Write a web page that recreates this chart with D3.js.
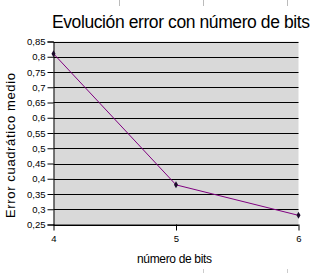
<!DOCTYPE html>
<html>
<head>
<meta charset="utf-8">
<script src="https://cdn.jsdelivr.net/npm/d3@7"></script>
<style>
  body { margin: 0; background: #fff; }
  svg { display: block; font-family: "Liberation Sans", Arial, sans-serif; }
</style>
</head>
<body>
<svg id="chart" width="333" height="273"></svg>
<script>
const bits = [4, 5, 6];
const errors = [0.81, 0.38, 0.28];
const yTicks = [0.25, 0.3, 0.35, 0.4, 0.45, 0.5, 0.55, 0.6, 0.65, 0.7, 0.75, 0.8, 0.85];
const title = "Evolución error con número de bits";

const svg = d3.select("#chart");
const plotL = 53.5, plotR = 298.5, plotT = 41.5, plotB = 224.5;

const x = d3.scaleLinear().domain([4, 6]).range([plotL, plotR]);
const y = d3.scaleLinear().domain([0.25, 0.85]).range([plotB, plotT]);
const fmt = d => String(d).replace(".", ",");

// stray tick marks from neighbouring chart
svg.selectAll("line.stray-top").data([119, 203, 287]).join("line")
  .attr("x1", d => d + 0.5).attr("x2", d => d + 0.5)
  .attr("y1", 0).attr("y2", 6)
  .attr("stroke", "#bbb");
svg.selectAll("line.stray-bot").data([203, 287]).join("line")
  .attr("x1", d => d + 0.5).attr("x2", d => d + 0.5)
  .attr("y1", 269).attr("y2", 273)
  .attr("stroke", "#ccc");

svg.append("rect")
  .attr("x", plotL).attr("y", plotT)
  .attr("width", plotR - plotL).attr("height", plotB - plotT)
  .attr("fill", "#d9d9d9");

svg.append("g").selectAll("line").data(yTicks).join("line")
  .attr("x1", plotL).attr("x2", plotR)
  .attr("y1", d => Math.round(y(d)) + 0.5).attr("y2", d => Math.round(y(d)) + 0.5)
  .attr("stroke", "#000");

const yAxis = svg.append("g")
  .attr("transform", `translate(${plotL},0)`)
  .call(d3.axisLeft(y).tickValues(yTicks).tickFormat(fmt).tickSize(6).tickPadding(2));
const xAxis = svg.append("g")
  .attr("transform", `translate(0,${plotB})`)
  .call(d3.axisBottom(x).tickValues(bits).tickFormat(d3.format("d")).tickSize(6).tickPadding(5));
[yAxis, xAxis].forEach(a => {
  a.select(".domain").attr("stroke", "#000");
  a.selectAll(".tick line").attr("stroke", "#000");
  a.selectAll("text").attr("font-size", 9.5).attr("fill", "#000")
    .attr("font-family", "'Liberation Sans', Arial, sans-serif");
});
xAxis.select(".domain").remove();
xAxis.append("line").attr("x1", plotL).attr("x2", plotR).attr("y1", 0.5).attr("y2", 0.5).attr("stroke", "#000");

const line = d3.line().x((d, i) => x(bits[i])).y(d => y(d));
svg.append("path").datum(errors)
  .attr("d", line)
  .attr("fill", "none")
  .attr("stroke", "#800080")
  .attr("stroke-width", 1);

svg.selectAll("path.pt").data(errors).join("path")
  .attr("class", "pt")
  .attr("d", d3.symbol(d3.symbolDiamond, 14))
  .attr("transform", (d, i) => `translate(${x(bits[i])},${y(d)})`)
  .attr("fill", "#1a0a2a");

svg.append("text")
  .attr("x", 181).attr("y", 28)
  .attr("text-anchor", "middle")
  .attr("font-size", 17.5)
  .attr("textLength", 258)
  .text(title);

svg.append("text")
  .attr("x", 174.5).attr("y", 263)
  .attr("text-anchor", "middle")
  .attr("font-size", 12)
  .attr("textLength", 75)
  .text("número de bits");

svg.append("text")
  .attr("transform", "translate(15,145.5) rotate(-90)")
  .attr("text-anchor", "middle")
  .attr("font-size", 13)
  .attr("textLength", 145)
  .text("Error cuadrático medio");
</script>
</body>
</html>
